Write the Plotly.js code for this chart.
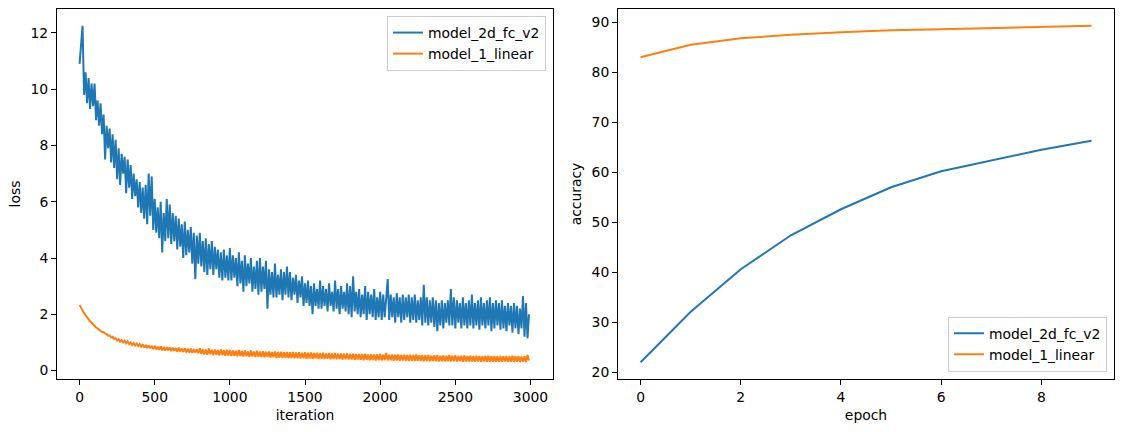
<!DOCTYPE html>
<html>
<head>
<meta charset="utf-8">
<script src="https://cdn.plot.ly/plotly-3.0.1.min.js"></script>
<style>html,body{margin:0;padding:0;background:#fff;}#chart{width:1124px;height:432px;}</style>
</head>
<body>
<div id="chart"></div>
<script>
// ---- data ----
var seriesNames = ["model_2d_fc_v2", "model_1_linear"];
var lossStep = 10; // iterations between recorded values
var lossModel2d = [
 10.9, 11.7, 12.25, 9.8, 10.6, 9.5, 10.4, 9.3, 10.2, 9.4, 10.2, 8.9, 9.6, 8.7, 9.5, 8.4, 9.1, 7.5, 8.7, 7.9,
 8.6, 7.4, 8.4, 7.2, 8.2, 6.8, 7.9, 6.6, 7.7, 7.0, 7.6, 6.3, 7.5, 6.5, 7.3, 6.1, 7.0, 6.2, 6.8, 5.8,
 6.7, 5.6, 6.5, 5.4, 6.6, 5.2, 7.0, 5.5, 6.9, 5.0, 6.1, 4.9, 5.8, 4.7, 6.0, 4.2, 5.6, 4.6, 6.1, 4.7,
 5.9, 4.5, 5.6, 4.6, 5.5, 4.3, 5.4, 4.4, 5.2, 4.0, 5.3, 4.1, 5.0, 4.2, 5.1, 3.8, 4.9, 3.25, 4.8, 3.8,
 4.9, 3.7, 4.6, 3.5, 4.7, 3.4, 4.5, 3.6, 4.6, 3.4, 4.4, 3.6, 4.3, 3.3, 4.2, 3.2, 4.3, 3.3, 4.1, 3.2,
 4.35, 3.2, 4.1, 3.3, 4.0, 3.0, 4.2, 3.1, 3.9, 2.8, 4.1, 3.0, 3.8, 3.1, 4.0, 2.8, 3.7, 2.9, 3.9, 2.7,
 4.0, 2.8, 3.7, 2.9, 3.9, 2.2, 3.6, 2.7, 3.5, 2.6, 3.8, 2.6, 3.4, 2.7, 3.6, 2.5, 3.5, 2.7, 3.7, 2.6,
 3.5, 2.5, 3.3, 2.7, 3.4, 2.4, 3.2, 2.6, 3.35, 2.3, 3.1, 2.4, 3.2, 2.3, 3.0, 2.0, 3.1, 2.3, 2.9, 2.2,
 3.2, 2.2, 3.0, 2.3, 2.9, 2.1, 3.1, 2.3, 2.8, 2.1, 3.2, 2.2, 2.9, 2.0, 3.0, 2.2, 2.8, 2.1, 3.1, 2.0,
 3.0, 1.9, 3.35, 2.1, 2.8, 2.0, 2.9, 1.9, 2.7, 2.0, 3.0, 1.8, 2.8, 2.0, 2.7, 1.9, 2.9, 1.8, 2.6, 1.9,
 2.8, 1.8, 2.7, 1.9, 2.6, 3.25, 1.8, 2.7, 1.9, 2.6, 1.7, 2.75, 1.9, 2.6, 1.7, 2.7, 1.8, 2.6, 1.9, 2.7,
 1.7, 2.6, 1.8, 2.7, 1.7, 2.5, 1.8, 2.6, 1.6, 3.05, 1.7, 2.6, 1.6, 2.5, 1.7, 2.6, 1.55, 2.5, 1.4, 2.4,
 1.6, 2.5, 1.5, 2.4, 1.7, 2.5, 1.6, 2.9, 1.6, 2.6, 1.5, 2.5, 1.7, 2.4, 1.5, 2.6, 1.6, 2.4, 1.5, 2.5,
 1.6, 2.7, 1.5, 2.4, 1.6, 2.5, 1.45, 2.6, 1.6, 2.4, 1.5, 2.5, 1.6, 2.6, 1.4, 2.4, 1.5, 2.5, 1.6, 2.4,
 1.45, 2.5, 1.5, 2.3, 1.4, 2.4, 1.6, 2.3, 1.35, 2.4, 1.5, 2.3, 1.3, 2.2, 1.5, 2.65, 1.2, 2.4, 1.15, 2.0
];
var lossModel1 = [
 2.33, 2.22, 2.14, 2.04, 1.97, 1.88, 1.82, 1.75, 1.70, 1.63, 1.60, 1.53, 1.50, 1.46, 1.44, 1.37, 1.37, 1.31, 1.30, 1.24,
 1.25, 1.18, 1.20, 1.13, 1.15, 1.07, 1.12, 1.03, 1.08, 1.00, 1.06, 0.97, 1.04, 0.94, 1.00, 0.91, 0.98, 0.89, 0.96, 0.87,
 0.94, 0.85, 0.93, 0.82, 0.91, 0.80, 0.89, 0.79, 0.88, 0.76, 0.88, 0.75, 0.85, 0.74, 0.86, 0.72, 0.84, 0.71, 0.83, 0.72,
 0.82, 0.69, 0.81, 0.70, 0.80, 0.67, 0.82, 0.68, 0.78, 0.66, 0.79, 0.65, 0.77, 0.64, 0.78, 0.63, 0.76, 0.64, 0.75, 0.62,
 0.79, 0.59, 0.76, 0.57, 0.75, 0.56, 0.78, 0.58, 0.74, 0.55, 0.75, 0.56, 0.73, 0.54, 0.75, 0.55, 0.72, 0.53, 0.74, 0.54,
 0.73, 0.52, 0.71, 0.53, 0.70, 0.51, 0.73, 0.52, 0.69, 0.50, 0.71, 0.51, 0.68, 0.49, 0.71, 0.50, 0.68, 0.48, 0.70, 0.49,
 0.68, 0.48, 0.69, 0.47, 0.67, 0.48, 0.68, 0.46, 0.66, 0.47, 0.68, 0.45, 0.66, 0.46, 0.67, 0.45, 0.65, 0.46, 0.66, 0.44,
 0.65, 0.45, 0.66, 0.44, 0.64, 0.45, 0.65, 0.43, 0.63, 0.44, 0.65, 0.42, 0.63, 0.43, 0.64, 0.42, 0.62, 0.43, 0.63, 0.41,
 0.62, 0.42, 0.63, 0.41, 0.61, 0.42, 0.62, 0.40, 0.61, 0.41, 0.62, 0.40, 0.60, 0.41, 0.61, 0.39, 0.60, 0.40, 0.61, 0.39,
 0.59, 0.39, 0.60, 0.38, 0.58, 0.39, 0.59, 0.38, 0.58, 0.37, 0.59, 0.38, 0.57, 0.37, 0.58, 0.38, 0.57, 0.36, 0.58, 0.37,
 0.59, 0.36, 0.56, 0.37, 0.63, 0.36, 0.56, 0.37, 0.57, 0.35, 0.56, 0.36, 0.57, 0.35, 0.55, 0.36, 0.56, 0.35, 0.55, 0.34,
 0.56, 0.35, 0.55, 0.34, 0.57, 0.35, 0.54, 0.34, 0.55, 0.33, 0.54, 0.34, 0.55, 0.33, 0.53, 0.34, 0.54, 0.33, 0.55, 0.32,
 0.53, 0.33, 0.54, 0.32, 0.53, 0.33, 0.55, 0.32, 0.53, 0.33, 0.54, 0.32, 0.52, 0.33, 0.53, 0.31, 0.54, 0.32, 0.52, 0.32,
 0.53, 0.32, 0.52, 0.31, 0.53, 0.32, 0.52, 0.31, 0.51, 0.32, 0.52, 0.31, 0.53, 0.30, 0.51, 0.31, 0.52, 0.30, 0.51, 0.31,
 0.52, 0.31, 0.51, 0.32, 0.52, 0.30, 0.51, 0.31, 0.53, 0.30, 0.51, 0.31, 0.52, 0.30, 0.50, 0.31, 0.51, 0.30, 0.55, 0.36
];
var epochs = [0, 1, 2, 3, 4, 5, 6, 7, 8, 9];
var accModel2d = [22.0, 32.1, 40.6, 47.4, 52.6, 57.0, 60.2, 62.3, 64.5, 66.3];
var accModel1 = [83.0, 85.5, 86.8, 87.5, 88.0, 88.4, 88.6, 88.8, 89.1, 89.3];
var lossXTicks = [0, 500, 1000, 1500, 2000, 2500, 3000];
var lossYTicks = [0, 2, 4, 6, 8, 10, 12];
var accXTicks = [0, 2, 4, 6, 8];
var accYTicks = [20, 30, 40, 50, 60, 70, 80, 90];

// ---- build ----
var colors = ["#1f77b4", "#ff7f0e"];
var iters = lossModel2d.map(function (_, i) { return i * lossStep; });
var FONT = "DejaVu Sans, Verdana, sans-serif";
var FS = 13.9;

var traces = [
  {x: iters, y: lossModel2d, type: "scatter", mode: "lines", name: seriesNames[0],
   line: {color: colors[0], width: 2}, xaxis: "x", yaxis: "y", legend: "legend"},
  {x: iters, y: lossModel1, type: "scatter", mode: "lines", name: seriesNames[1],
   line: {color: colors[1], width: 2}, xaxis: "x", yaxis: "y", legend: "legend"},
  {x: epochs, y: accModel2d, type: "scatter", mode: "lines", name: seriesNames[0],
   line: {color: colors[0], width: 2}, xaxis: "x2", yaxis: "y2", legend: "legend2"},
  {x: epochs, y: accModel1, type: "scatter", mode: "lines", name: seriesNames[1],
   line: {color: colors[1], width: 2}, xaxis: "x2", yaxis: "y2", legend: "legend2"}
];

function axis(extra) {
  var a = {
    showline: true, mirror: true, linecolor: "#000", linewidth: 1,
    ticks: "outside", ticklen: 5, tickwidth: 1, tickcolor: "#000",
    showgrid: false, zeroline: false, automargin: false,
    tickfont: {family: FONT, size: FS, color: "#000"}
  };
  for (var k in extra) a[k] = extra[k];
  return a;
}

var legendCommon = {
  bgcolor: "rgba(255,255,255,0.8)", bordercolor: "#cccccc", borderwidth: 1,
  font: {family: FONT, size: FS, color: "#000"}, tracegroupgap: 0
};

var layout = {
  width: 1124, height: 432,
  margin: {l: 57, r: 10, t: 9, b: 53, pad: 0},
  paper_bgcolor: "#fff", plot_bgcolor: "#fff",
  font: {family: FONT, size: FS, color: "#000"},
  xaxis: axis({domain: [0, 0.4693], range: [-150, 3150], tickvals: lossXTicks, anchor: "y",
    title: {text: "iteration", font: {family: FONT, size: FS, color: "#000"}, standoff: 6}}),
  yaxis: axis({domain: [0, 1], range: [-0.3, 12.85], tickvals: lossYTicks, anchor: "x",
    title: {text: "loss", font: {family: FONT, size: FS, color: "#000"}, standoff: 6}}),
  xaxis2: axis({domain: [0.5308, 1], range: [-0.45, 9.45], tickvals: accXTicks, anchor: "y2",
    title: {text: "epoch", font: {family: FONT, size: FS, color: "#000"}, standoff: 6}}),
  yaxis2: axis({domain: [0, 1], range: [18.65, 92.65], tickvals: accYTicks, anchor: "x2",
    title: {text: "accuracy", font: {family: FONT, size: FS, color: "#000"}, standoff: 6}}),
  showlegend: true,
  legend: Object.assign({x: 0.4626, y: 0.981, xref: "paper", yref: "paper", xanchor: "right", yanchor: "top"}, legendCommon),
  legend2: Object.assign({x: 0.9934, y: 0.0197, xref: "paper", yref: "paper", xanchor: "right", yanchor: "bottom"}, legendCommon)
};

Plotly.newPlot("chart", traces, layout, {displayModeBar: false, staticPlot: true});
</script>
</body>
</html>
